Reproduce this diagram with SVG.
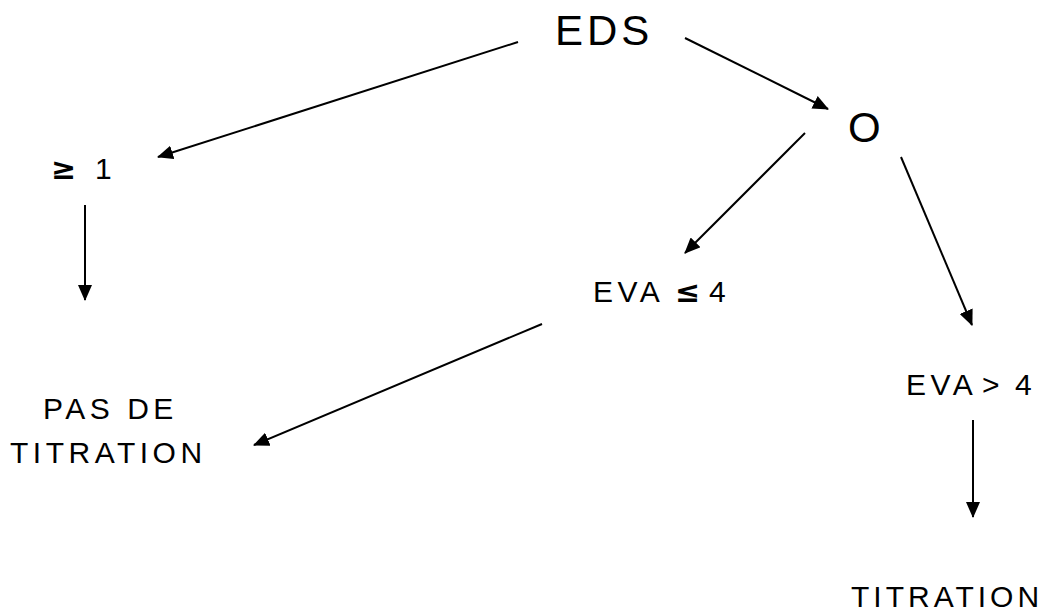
<svg xmlns="http://www.w3.org/2000/svg" width="1048" height="615" viewBox="0 0 1048 615">
<defs>
<style>
text{font-family:"Liberation Sans",Arial,sans-serif;fill:#000;}
.t{font-size:30px;letter-spacing:4.5px;}
.big{font-size:42px;letter-spacing:4px;}
.m{font-family:"DejaVu Sans",sans-serif;font-weight:bold;font-size:30px;letter-spacing:0;}
.c{stroke:#000;stroke-width:2;fill:none;marker-end:url(#ah);}
</style>
<marker id="ah" markerUnits="userSpaceOnUse" markerWidth="16" markerHeight="14" refX="15" refY="7" orient="auto">
<path d="M0,0 L16,7 L0,14 Z" fill="#000"/>
</marker>
</defs>
<rect width="1048" height="615" fill="#fff"/>
<g id="connectors">
<line class="c" x1="518" y1="42" x2="158" y2="157"/>
<line class="c" x1="685" y1="38" x2="828" y2="109"/>
<line class="c" x1="805" y1="133" x2="685" y2="253"/>
<line class="c" x1="901" y1="157" x2="972" y2="325"/>
<line class="c" x1="85" y1="205" x2="85" y2="300"/>
<line class="c" x1="542" y1="324" x2="254" y2="445"/>
<line class="c" x1="973" y1="420" x2="973" y2="517"/>
</g>
<g id="eds"><text class="big" x="555" y="45">EDS</text></g>
<g id="zero"><text class="big" x="848" y="142">O</text></g>
<g id="ge1"><text class="t" y="179"><tspan class="m" x="51">≥</tspan> <tspan x="95">1</tspan></text></g>
<g id="eva-le4"><text class="t" y="302"><tspan x="593">EVA</tspan> <tspan class="m" x="675">≤</tspan> <tspan x="709">4</tspan></text></g>
<g id="pas-de-titration"><text class="t" x="43" y="419">PAS DE</text><text class="t" x="10" y="463">TITRATION</text></g>
<g id="eva-gt4"><text class="t" y="395"><tspan x="906">EVA</tspan> <tspan x="982">&gt;</tspan> <tspan x="1015">4</tspan></text></g>
<g id="titration"><text class="t" x="851" y="607" style="letter-spacing:4px">TITRATION</text></g>
</svg>
